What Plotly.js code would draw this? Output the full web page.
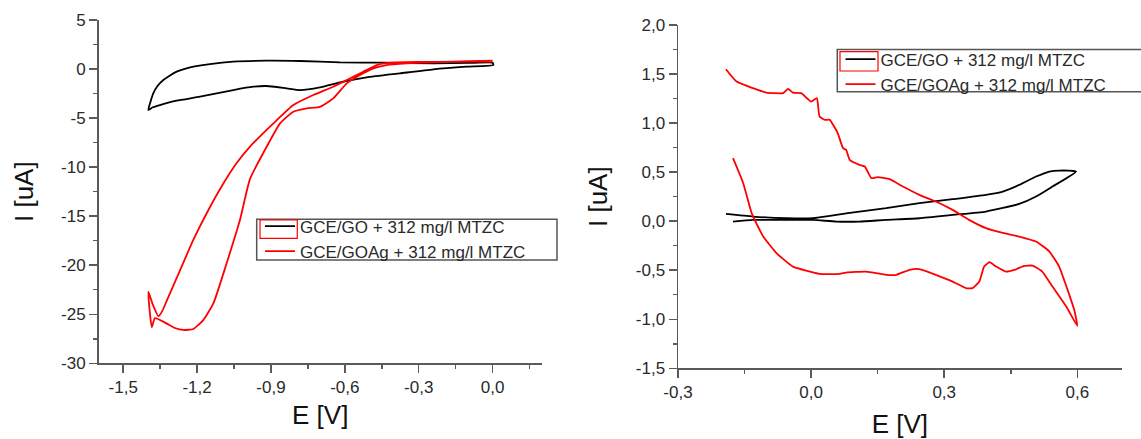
<!DOCTYPE html>
<html>
<head>
<meta charset="utf-8">
<script src="https://cdn.plot.ly/plotly-3.0.1.min.js"></script>
<style>html,body{margin:0;padding:0;background:#fff;}#chart{width:1141px;height:439px;}</style>
</head>
<body>
<div id="chart"></div>
<script>
// ---------- Series names ----------
const nameGO = 'GCE/GO + 312 mg/l MTZC';
const nameGOAg = 'GCE/GOAg + 312 mg/l MTZC';

// ---------- Left panel: GCE/GO (black) ----------
const leftGO_E = [-1.398,-1.390,-1.378,-1.360,-1.337,-1.310,-1.283,-1.250,-1.215,-1.148,-1.053,-0.917,-0.782,-0.620,-0.444,-0.240,-0.100,0.000,
  0.003,-0.105,-0.240,-0.376,-0.511,-0.620,-0.701,-0.782,-0.836,-0.917,-0.972,-1.053,-1.188,-1.283,-1.351,-1.380,-1.398];
const leftGO_I = [-4.18,-3.40,-2.48,-1.70,-1.12,-0.65,-0.27,0.02,0.24,0.51,0.75,0.85,0.82,0.68,0.65,0.58,0.62,0.65,
  0.41,0.24,-0.03,-0.44,-0.85,-1.36,-1.87,-2.14,-1.97,-1.73,-1.80,-2.14,-2.82,-3.23,-3.67,-3.90,-4.18];

// ---------- Left panel: GCE/GOAg (red) ----------
const leftGOAg_E = [0.000,-0.100,-0.220,-0.349,-0.430,-0.484,-0.538,-0.592,-0.647,-0.701,-0.755,-0.809,-0.863,-0.917,-0.985,-1.026,-1.080,-1.134,-1.175,-1.215,-1.256,-1.290,-1.323,-1.371,-1.384,-1.398,-1.380,-1.357,-1.340,-1.323,-1.269,-1.215,-1.161,-1.094,-1.040,-0.985,-0.890,-0.809,-0.728,-0.647,-0.592,-0.525,-0.470,-0.416,-0.300,-0.150,0.000];
const leftGOAg_I = [0.85,0.80,0.72,0.58,0.41,0.07,-0.61,-1.46,-2.99,-3.85,-4.01,-4.36,-5.54,-7.90,-11.20,-15.40,-19.80,-23.90,-25.60,-26.50,-26.60,-26.40,-25.95,-25.40,-26.30,-22.70,-24.00,-25.20,-24.60,-23.60,-20.50,-17.40,-14.70,-11.70,-9.60,-7.90,-5.54,-3.67,-2.65,-1.80,-1.12,-0.27,0.41,0.65,0.72,0.75,0.75];

// ---------- Right panel: GCE/GO (black) ----------
const rightGO_E = [-0.192,-0.131,-0.056,0.004,0.057,0.109,0.169,0.244,0.319,0.394,0.432,0.469,0.507,0.537,0.559,0.597,
  0.544,0.507,0.469,0.394,0.319,0.244,0.169,0.109,0.057,0.004,-0.056,-0.131,-0.176];
const rightGO_I = [0.074,0.047,0.030,0.030,0.064,0.098,0.132,0.183,0.224,0.268,0.302,0.370,0.455,0.506,0.516,0.506,
  0.353,0.251,0.176,0.098,0.064,0.030,0.013,-0.004,-0.004,0.013,0.013,0.013,-0.004];

// ---------- Right panel: GCE/GOAg (red) ----------
const rightGOAg_E = [-0.176,-0.153,-0.134,-0.116,-0.108,-0.078,-0.041,0.019,0.064,0.079,0.124,0.169,0.192,0.222,0.244,0.281,0.319,0.349,0.364,0.379,0.390,0.402,0.417,0.439,0.458,0.480,0.499,0.521,0.544,0.575,0.600,
  0.593,0.578,0.559,0.537,0.507,0.469,0.432,0.394,0.356,0.319,0.281,0.244,0.207,0.177,0.150,0.136,0.121,0.109,0.087,0.079,0.072,0.060,0.042,0.031,0.019,0.013,0.000,-0.022,-0.041,-0.052,-0.063,-0.101,-0.131,-0.168,-0.192];
const rightGOAg_I = [0.642,0.387,0.082,-0.089,-0.157,-0.326,-0.463,-0.537,-0.537,-0.524,-0.514,-0.547,-0.547,-0.496,-0.489,-0.547,-0.616,-0.683,-0.683,-0.616,-0.463,-0.418,-0.463,-0.514,-0.497,-0.456,-0.453,-0.514,-0.667,-0.870,-1.067,
  -0.904,-0.700,-0.463,-0.310,-0.208,-0.157,-0.120,-0.071,0.013,0.115,0.200,0.268,0.353,0.428,0.449,0.438,0.557,0.574,0.625,0.727,0.744,0.897,1.033,1.033,1.066,1.254,1.219,1.305,1.311,1.349,1.305,1.311,1.356,1.423,1.549];

// ---------- Tick labels ----------
const leftXTickVals = [-1.5,-1.2,-0.9,-0.6,-0.3,0.0];
const leftXTickText = ['-1,5','-1,2','-0,9','-0,6','-0,3','0,0'];
const leftYTickVals = [5,0,-5,-10,-15,-20,-25,-30];
const leftYTickText = ['5','0','-5','-10','-15','-20','-25','-30'];
const rightXTickVals = [-0.3,0.0,0.3,0.6];
const rightXTickText = ['-0,3','0,0','0,3','0,6'];
const rightYTickVals = [2.0,1.5,1.0,0.5,0.0,-0.5,-1.0,-1.5];
const rightYTickText = ['2,0','1,5','1,0','0,5','0,0','-0,5','-1,0','-1,5'];

const FONT = 'Liberation Sans, Arial, sans-serif';
const AXC = '#5a5a5a';
const W = 1141, H = 439;
const px = v => v / W;
const py = v => 1 - v / H;

function axis(extra) {
  return Object.assign({
    showline: true, linecolor: AXC, linewidth: 1.5, mirror: false,
    showgrid: false, zeroline: false,
    ticks: 'outside', ticklen: 8, tickwidth: 1.5, tickcolor: AXC,
    tickmode: 'array',
    tickfont: {family: FONT, size: 17, color: '#2a2a2a'},
    fixedrange: true
  }, extra);
}

const LINE_SHAPE = 'spline';
const traces = [
  {x: leftGO_E, y: leftGO_I, xaxis: 'x', yaxis: 'y', type: 'scatter', mode: 'lines', name: nameGO,
   line: {color: '#000000', width: 1.8, shape: LINE_SHAPE, smoothing: 0.5}, legend: 'legend'},
  {x: leftGOAg_E, y: leftGOAg_I, xaxis: 'x', yaxis: 'y', type: 'scatter', mode: 'lines', name: nameGOAg,
   line: {color: '#ff0000', width: 1.8, shape: LINE_SHAPE, smoothing: 0.5}, legend: 'legend'},
  {x: rightGO_E, y: rightGO_I, xaxis: 'x2', yaxis: 'y2', type: 'scatter', mode: 'lines', name: nameGO,
   line: {color: '#000000', width: 1.8, shape: LINE_SHAPE, smoothing: 0.5}, legend: 'legend2'},
  {x: rightGOAg_E, y: rightGOAg_I, xaxis: 'x2', yaxis: 'y2', type: 'scatter', mode: 'lines', name: nameGOAg,
   line: {color: '#ff0000', width: 1.8, shape: LINE_SHAPE, smoothing: 0.4}, legend: 'legend2'}
];

const legendCommon = {
  font: {family: FONT, size: 17, color: '#2a2a2a'},
  bgcolor: 'rgba(0,0,0,0)', borderwidth: 0,
  xanchor: 'left', yanchor: 'top', tracegroupgap: 0, itemwidth: 30
};

const layout = {
  width: W, height: H,
  margin: {l: 0, r: 0, t: 0, b: 0},
  paper_bgcolor: '#ffffff', plot_bgcolor: '#ffffff',
  font: {family: FONT, color: '#222'},
  showlegend: true,
  xaxis: axis({domain: [px(98.6), px(541.8)], range: [-1.6, 0.2], anchor: 'y',
    tickvals: leftXTickVals, ticktext: leftXTickText,
    minor: {tick0: -1.5, dtick: 0.15, ticks: 'outside', ticklen: 4, tickwidth: 1.5, tickcolor: AXC},
    title: {text: 'E [V]', font: {family: FONT, size: 26, color: '#111'}, standoff: 9}}),
  yaxis: axis({domain: [py(363.3), py(20)], range: [-30, 5], anchor: 'x',
    tickvals: leftYTickVals, ticktext: leftYTickText,
    minor: {tick0: 0, dtick: 2.5, ticks: 'outside', ticklen: 4, tickwidth: 1.5, tickcolor: AXC},
    title: {text: 'I [uA]', font: {family: FONT, size: 26, color: '#111'}, standoff: 20}}),
  xaxis2: axis({domain: [px(678), px(1121.7)], range: [-0.3, 0.7], anchor: 'y2',
    tickvals: rightXTickVals, ticktext: rightXTickText,
    minor: {tick0: 0, dtick: 0.15, ticks: 'outside', ticklen: 4, tickwidth: 1.5, tickcolor: AXC},
    title: {text: 'E [V]', font: {family: FONT, size: 26, color: '#111'}, standoff: 13}}),
  yaxis2: axis({domain: [py(368.3), py(25)], range: [-1.5, 2.0], anchor: 'x2',
    tickvals: rightYTickVals, ticktext: rightYTickText,
    minor: {tick0: 0, dtick: 0.25, ticks: 'outside', ticklen: 4, tickwidth: 1.5, tickcolor: AXC},
    title: {text: 'I [uA]', font: {family: FONT, size: 26, color: '#111'}, standoff: 20}}),
  legend: Object.assign({}, legendCommon, {x: px(260), y: py(208.5)}),
  legend2: Object.assign({}, legendCommon, {x: px(840.5), y: py(41.5)}),
  shapes: [
    // legend frames
    {type: 'rect', xref: 'paper', yref: 'paper', x0: px(256.7), x1: px(557), y0: py(260), y1: py(219.3),
     line: {color: '#555', width: 1.5}, fillcolor: 'rgba(0,0,0,0)', layer: 'above'},
    {type: 'rect', xref: 'paper', yref: 'paper', x0: px(837.3), x1: px(1150), y0: py(91.7), y1: py(49.5),
     line: {color: '#555', width: 1.5}, fillcolor: 'rgba(0,0,0,0)', layer: 'above'},
    // red selection boxes around first legend symbol
    {type: 'rect', xref: 'paper', yref: 'paper', x0: px(260), x1: px(297.3), y0: py(238.3), y1: py(220),
     line: {color: '#ff0000', width: 1.2}, fillcolor: 'rgba(0,0,0,0)', layer: 'above'},
    {type: 'rect', xref: 'paper', yref: 'paper', x0: px(840), x1: px(878), y0: py(71), y1: py(51.7),
     line: {color: '#ff0000', width: 1.2}, fillcolor: 'rgba(0,0,0,0)', layer: 'above'}
  ]
};

Plotly.newPlot('chart', traces, layout, {displayModeBar: false, staticPlot: true});
</script>
</body>
</html>
